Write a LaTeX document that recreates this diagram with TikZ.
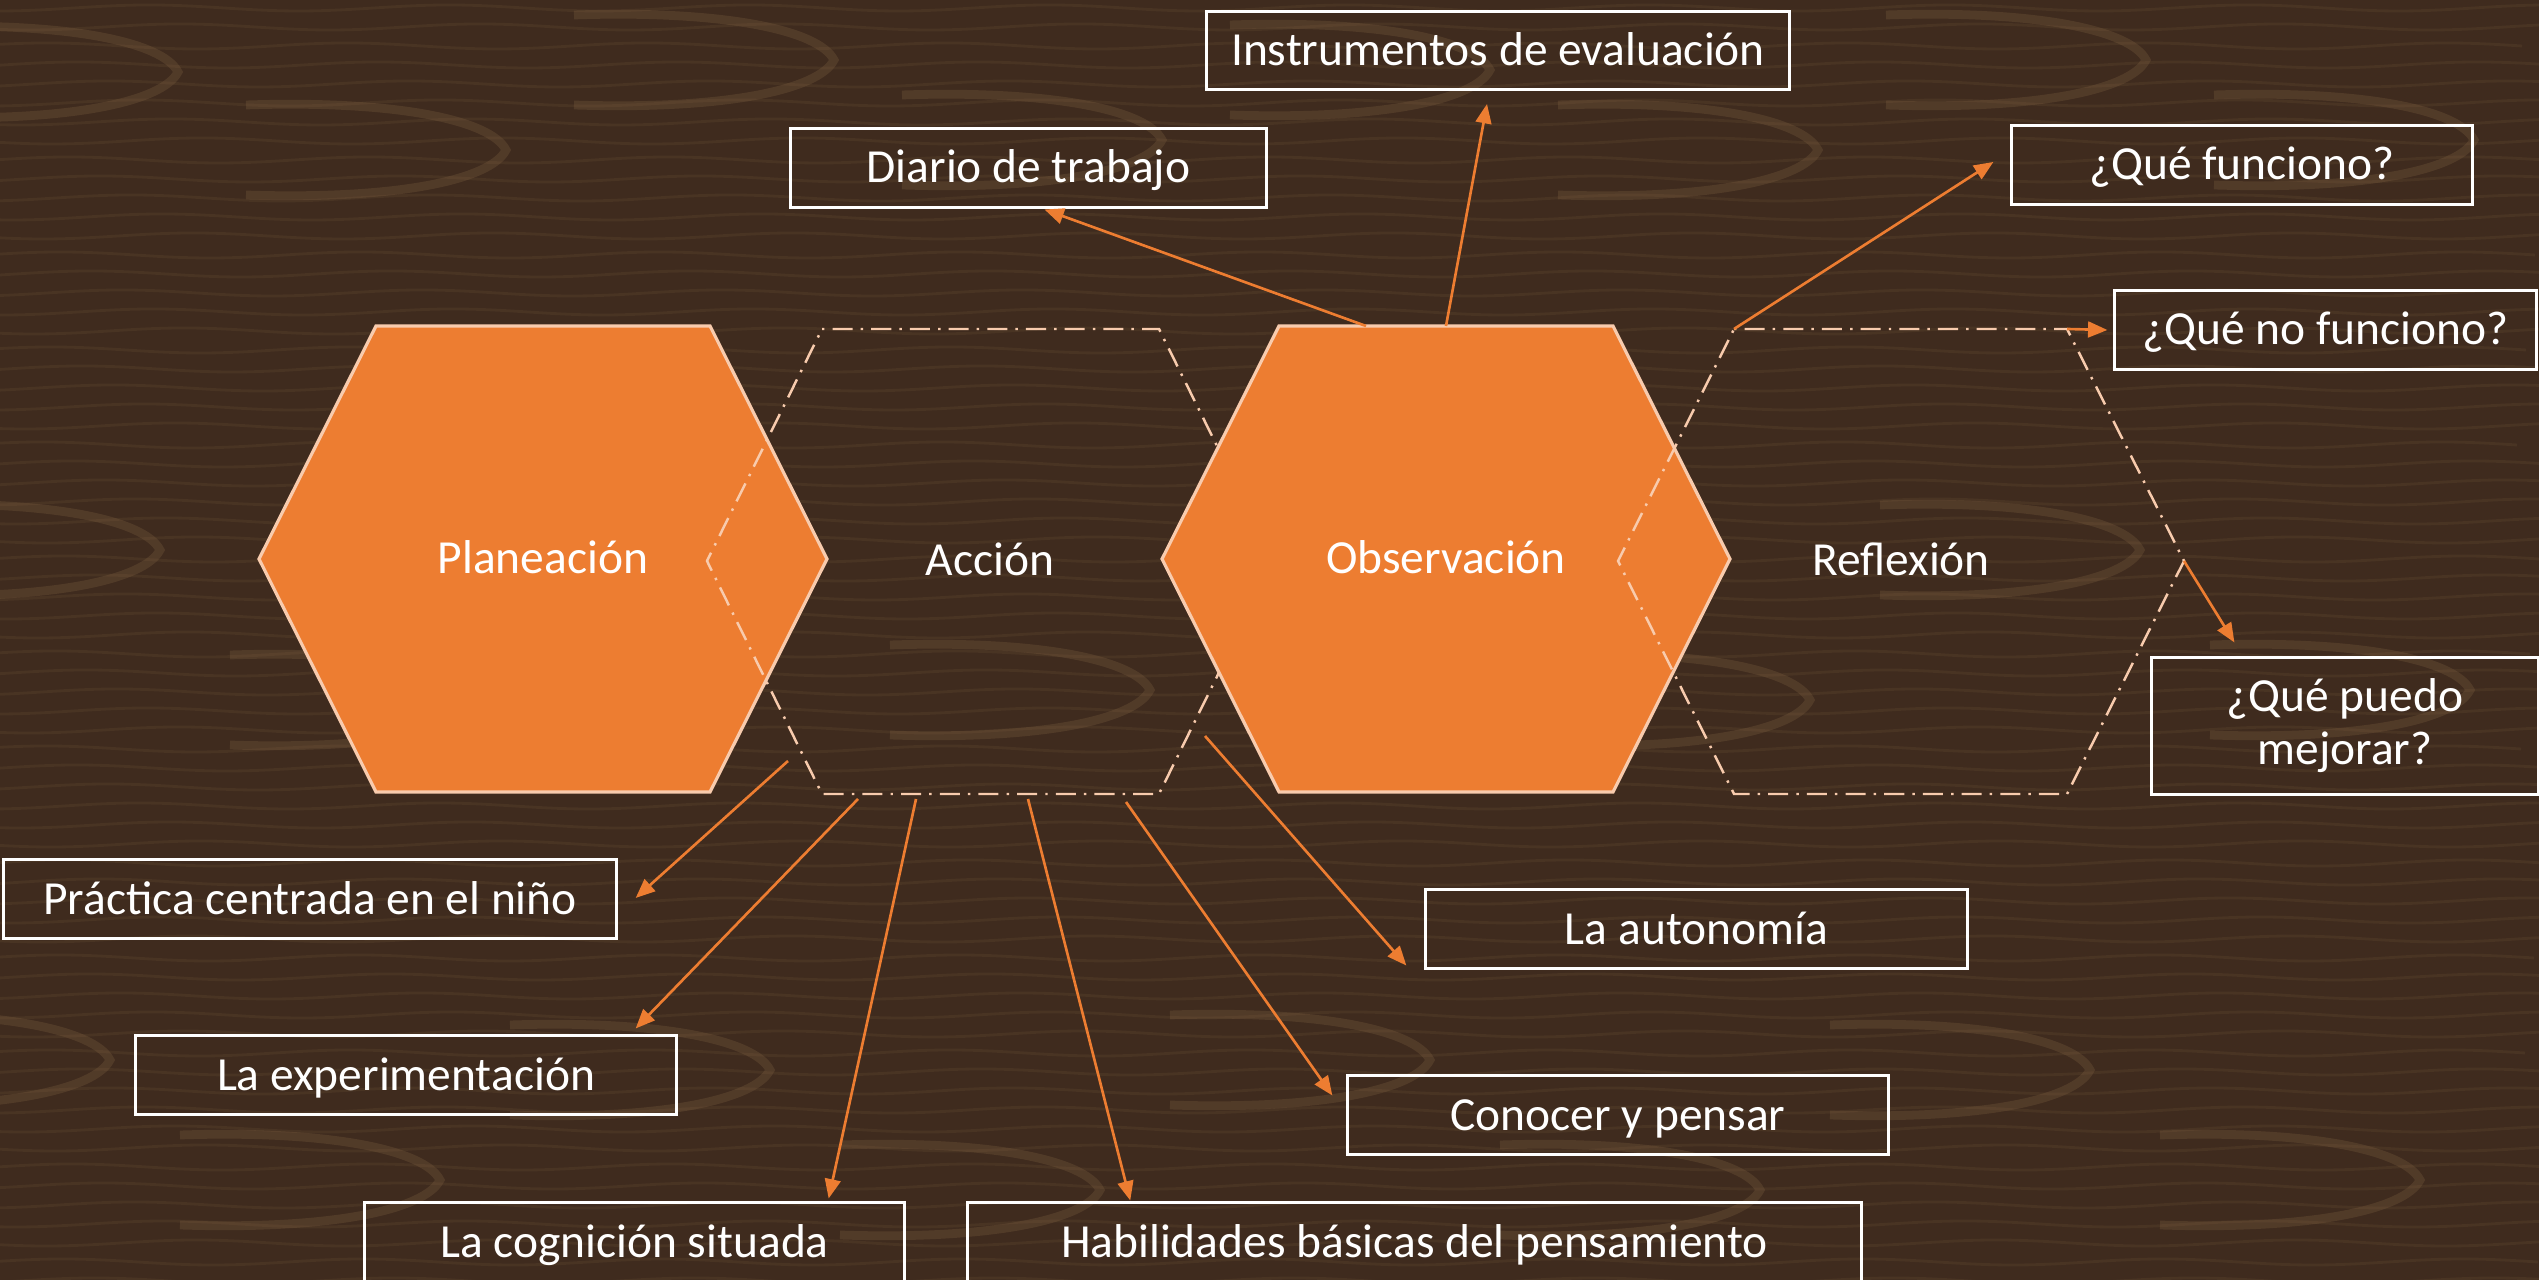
\documentclass[tikz,border=0pt]{standalone}
\usepackage{fontspec}
\setmainfont{Carlito}
\usetikzlibrary{arrows.meta,calc}
\definecolor{naranja}{HTML}{ED7D31}
\definecolor{durazno}{HTML}{F8CBAD}
\definecolor{madera}{HTML}{3F2B1E}
\definecolor{veta}{HTML}{8A6B48}

\begin{document}
\begin{tikzpicture}[x=0.01cm,y=-0.01cm,
	hexa/.style={fill=naranja, draw=durazno, line width=0.9pt},
	hexb/.style={draw=durazno, line width=0.7pt, dash pattern=on 0.7pt off 2.3pt on 5.7pt off 2.3pt},
	texto/.style={text=white, font=\fontsize{13.5}{16.2}\selectfont},
	renglon/.style={text height=0.45cm, text depth=0.15cm},
	cuadro/.style={texto, draw=white, line width=0.85pt, inner sep=0pt, minimum height=0.78cm},
	flecha/.style={draw=naranja, line width=0.75pt, -{Triangle[length=5.5pt,width=4.5pt,fill=naranja]}},
	grano/.style={draw=veta, line width=0.8pt, opacity=0.14}]
	\useasboundingbox (0,0) rectangle (2539,1280);
	\fill[madera] (0,0) rectangle (2539,1280);
	% vetas de la madera
	\foreach \y [evaluate=\y as \xs using {-mod(\y*7,164)}] in {8,27,...,1292}
		\draw[grano] (\xs-20,\y) \foreach \k in {1,...,9} { sin ++(75,3) cos ++(75,-3) sin ++(75,-3) cos ++(75,3) };
	\foreach \kx/\ky in {178/72,506/150,834/60,1162/140,1490/70,1818/150,2146/60,2474/140,
		160/550,490/700,820/560,1150/690,1480/560,1810/700,2140/550,2470/690,
		110/1060,440/1180,770/1070,1100/1190,1430/1060,1760/1190,2090/1070,2420/1180}
		\draw[grano, line width=2.5pt, opacity=0.25] ({\kx-260},{\ky-45}) .. controls ({\kx-110},{\ky-50}) and ({\kx-15},{\ky-30}) .. (\kx,\ky) .. controls ({\kx-15},{\ky+30}) and ({\kx-110},{\ky+50}) .. ({\kx-260},{\ky+45});

	% hexagonos
	\draw[hexa] (259,559) -- (376,326) -- (710,326) -- (827,559) -- (710,792) -- (376,792) -- cycle;
	\draw[hexb] (822,329) -- (1159,329) -- (1274,561) -- (1159,794) -- (822,794) -- (707,561) -- cycle;
	\draw[hexa] (1162,559) -- (1279,326) -- (1613,326) -- (1730,559) -- (1613,792) -- (1279,792) -- cycle;
	\draw[hexb] (1734,329) coordinate (ref-nw) -- (2067,329) coordinate (ref-ne) -- (2184,561) coordinate (ref-e) -- (2067,794) -- (1734,794) -- (1618,561) -- cycle;
	\node[texto, renglon] (pla) at (543,559) {Planeación};
	\node[texto, renglon] (acc) at (990,561) {Acción};
	\node[texto, renglon] (obs) at (1446,559) {Observación};
	\node[texto, renglon] (ref) at (1901,561) {Reflexión};

	% cuadros
	\node[cuadro, renglon, minimum width=5.82cm] (inst) at (1498,50.5) {Instrumentos de evaluación};
	\node[cuadro, renglon, minimum width=4.75cm] (diar) at (1028.5,168) {Diario de trabajo};
	\node[cuadro, renglon, minimum width=4.60cm] (qf) at (2242,165) {¿Qué funciono?};
	\node[cuadro, renglon, minimum width=4.21cm] (qnf) at (2325.5,330) {¿Qué no funciono?};
	\node[cuadro, minimum width=3.86cm, minimum height=1.36cm, align=center, font=\fontsize{13.5}{15.1}\selectfont] (qpm) at (2345,726) {¿Qué puedo\\mejorar?};
	\node[cuadro, renglon, minimum width=6.12cm] (prac) at (310,899) {Práctica centrada en el niño};
	\node[cuadro, renglon, minimum width=5.40cm] (expe) at (406,1075) {La experimentación};
	\node[cuadro, renglon, minimum width=5.39cm] (cogn) at (634.5,1242) {La cognición situada};
	\node[cuadro, renglon, minimum width=8.93cm] (habi) at (1414.5,1242) {Habilidades básicas del pensamiento};
	\node[cuadro, renglon, minimum width=5.41cm] (auto) at (1696.5,929) {La autonomía};
	\node[cuadro, renglon, minimum width=5.40cm] (cono) at (1618,1115) {Conocer y pensar};

	% salidas de las flechas
	\coordinate (s-prac) at (788,761);
	\coordinate (s-expe) at (858,799);
	\coordinate (s-cogn) at (916,799);
	\coordinate (s-habi) at (1028,799);
	\coordinate (s-cono) at (1126,802);
	\coordinate (s-auto) at (1205,736);
	\coordinate (s-diar) at (1366,326);
	\coordinate (s-inst) at (1446,326);

	\path (s-prac) edge[flecha] ($(prac.east)+(18,-1)$)
	(s-expe) edge[flecha] ($(expe.north east)+(-42,-6)$)
	(s-cogn) edge[flecha] ($(cogn.north east)+(-77,-3)$)
	(s-habi) edge[flecha] ($(habi.north west)+(164,-1)$)
	(s-cono) edge[flecha] ($(cono.north west)+(-14,21)$)
	(s-auto) edge[flecha] ($(auto.south west)+(-18,-4)$)
	(s-diar) edge[flecha] ($(diar.south)+(16,1)$)
	(s-inst) edge[flecha] ($(inst.south)+(-11,13)$)
	(ref-nw) edge[flecha] ($(qf.west)+(-17,-3)$)
	(ref-ne) edge[flecha] ($(qnf.west)+(-6,0)$)
	(ref-e) edge[flecha] ($(qpm.north west)+(84,-14)$);
\end{tikzpicture}
\end{document}
